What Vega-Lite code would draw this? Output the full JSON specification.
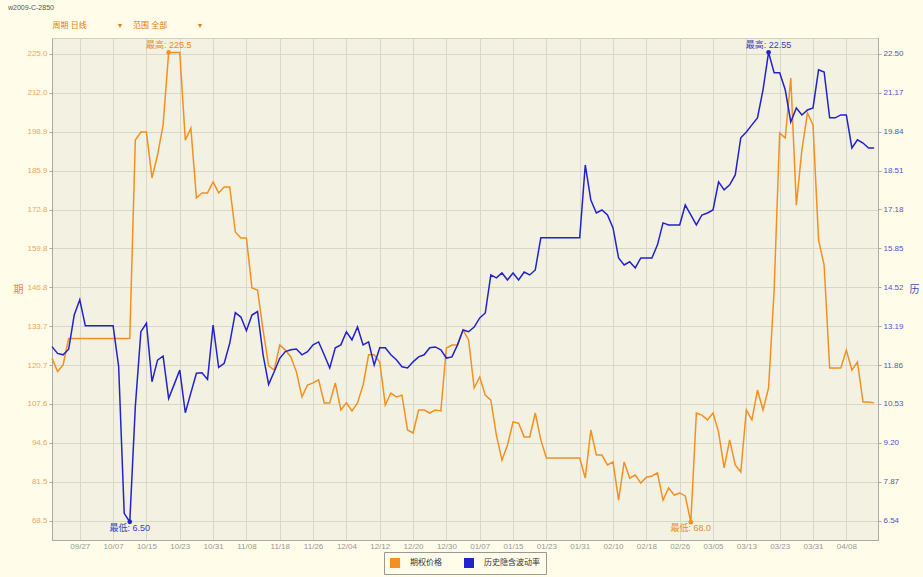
{
"$schema": "https://vega.github.io/schema/vega-lite/v6.json",
"width": 826, "height": 502,
"autosize": "none",
"padding": {"left": 52, "top": 38, "right": 45, "bottom": 37},
"background": "#fffdea",
"config": {
  "view": {"fill": "#f3f1e2", "stroke": "#cfcfc4"},
  "font": "Liberation Sans, Noto Sans CJK SC",
  "axis": {"labelOverlap": false},
  "axisX": {"labelOverlap": false, "labelSeparation": 0},
  "legend": {"orient": "bottom", "direction": "horizontal", "strokeColor": "#999999", "padding": 6, "labelFontSize": 8, "labelColor": "#333333", "symbolType": "square", "symbolSize": 100, "columnPadding": 22, "offset": 2, "labelOffset": 10, "layout": {"bottom": {"anchor": "middle"}}}
},
"title": {"text": "w2009-C-2850", "anchor": "start", "frame": "group", "dx": -44, "fontSize": 7, "fontWeight": "normal", "color": "#555555", "offset": 10},
"datasets": {
"main": [
{"i":0,"p":123.0,"v":12.49},{"i":1,"p":118.5,"v":12.26},{"i":2,"p":120.7,"v":12.21},{"i":3,"p":129.6,"v":12.40},{"i":4,"p":129.6,"v":13.57},{"i":5,"p":129.6,"v":14.09},{"i":6,"p":129.6,"v":13.20},{"i":7,"p":129.6,"v":13.20},{"i":8,"p":129.6,"v":13.20},{"i":9,"p":129.6,"v":13.20},
{"i":10,"p":129.6,"v":13.20},{"i":11,"p":129.6,"v":13.20},{"i":12,"p":129.6,"v":11.81},{"i":13,"p":129.6,"v":6.79},{"i":14,"p":129.6,"v":6.50},{"i":15,"p":196.1,"v":10.44},{"i":16,"p":198.8,"v":13.00},{"i":17,"p":198.8,"v":13.29},{"i":18,"p":183.4,"v":11.29},{"i":19,"p":191.1,"v":12.03},
{"i":20,"p":201.2,"v":12.17},{"i":21,"p":225.5,"v":10.72},{"i":22,"p":225.5,"v":11.20},{"i":23,"p":225.5,"v":11.69},{"i":24,"p":196.1,"v":10.23},{"i":25,"p":200.1,"v":10.91},{"i":26,"p":176.7,"v":11.58},{"i":27,"p":178.4,"v":11.60},{"i":28,"p":178.4,"v":11.37},{"i":29,"p":182.1,"v":13.23},
{"i":30,"p":178.4,"v":11.78},{"i":31,"p":180.4,"v":11.92},{"i":32,"p":180.4,"v":12.61},{"i":33,"p":165.3,"v":13.65},{"i":34,"p":163.3,"v":13.50},{"i":35,"p":163.3,"v":13.04},{"i":36,"p":146.5,"v":13.57},{"i":37,"p":145.8,"v":13.69},{"i":38,"p":132.4,"v":12.21},{"i":39,"p":120.4,"v":11.20},
{"i":40,"p":119.0,"v":11.63},{"i":41,"p":127.4,"v":12.09},{"i":42,"p":125.7,"v":12.32},{"i":43,"p":123.4,"v":12.38},{"i":44,"p":118.4,"v":12.41},{"i":45,"p":110.0,"v":12.21},{"i":46,"p":114.0,"v":12.32},{"i":47,"p":114.7,"v":12.55},{"i":48,"p":115.7,"v":12.65},{"i":49,"p":108.0,"v":12.21},
{"i":50,"p":108.0,"v":11.76},{"i":51,"p":114.7,"v":12.45},{"i":52,"p":105.6,"v":12.55},{"i":53,"p":108.0,"v":13.00},{"i":54,"p":105.3,"v":12.72},{"i":55,"p":108.0,"v":13.16},{"i":56,"p":114.0,"v":12.55},{"i":57,"p":124.1,"v":12.65},{"i":58,"p":124.1,"v":11.86},{"i":59,"p":121.7,"v":12.45},
{"i":60,"p":107.3,"v":12.45},{"i":61,"p":111.3,"v":12.21},{"i":62,"p":110.0,"v":12.04},{"i":63,"p":110.6,"v":11.80},{"i":64,"p":98.9,"v":11.76},{"i":65,"p":97.9,"v":11.97},{"i":66,"p":105.6,"v":12.14},{"i":67,"p":105.6,"v":12.21},{"i":68,"p":104.6,"v":12.45},{"i":69,"p":105.6,"v":12.48},
{"i":70,"p":105.3,"v":12.38},{"i":71,"p":126.4,"v":12.10},{"i":72,"p":127.4,"v":12.14},{"i":73,"p":127.4,"v":12.55},{"i":74,"p":132.4,"v":13.06},{"i":75,"p":129.1,"v":13.00},{"i":76,"p":113.0,"v":13.16},{"i":77,"p":116.7,"v":13.47},{"i":78,"p":110.6,"v":13.64},{"i":79,"p":108.9,"v":14.94},
{"i":80,"p":97.2,"v":14.84},{"i":81,"p":88.8,"v":15.01},{"i":82,"p":93.9,"v":14.77},{"i":83,"p":101.6,"v":15.01},{"i":84,"p":101.2,"v":14.77},{"i":85,"p":96.6,"v":15.04},{"i":86,"p":96.6,"v":14.94},{"i":87,"p":104.6,"v":15.11},{"i":88,"p":95.6,"v":16.21},{"i":89,"p":89.5,"v":16.21},
{"i":90,"p":89.5,"v":16.21},{"i":91,"p":89.5,"v":16.21},{"i":92,"p":89.5,"v":16.21},{"i":93,"p":89.5,"v":16.21},{"i":94,"p":89.5,"v":16.21},{"i":95,"p":89.5,"v":16.21},{"i":96,"p":82.8,"v":18.70},{"i":97,"p":98.9,"v":17.50},{"i":98,"p":90.5,"v":17.06},{"i":99,"p":90.5,"v":17.16},
{"i":100,"p":87.2,"v":16.99},{"i":101,"p":88.2,"v":16.55},{"i":102,"p":75.4,"v":15.52},{"i":103,"p":88.2,"v":15.28},{"i":104,"p":82.8,"v":15.39},{"i":105,"p":83.8,"v":15.18},{"i":106,"p":81.1,"v":15.52},{"i":107,"p":83.1,"v":15.52},{"i":108,"p":83.5,"v":15.52},{"i":109,"p":84.5,"v":15.97},
{"i":110,"p":75.4,"v":16.72},{"i":111,"p":79.5,"v":16.65},{"i":112,"p":77.1,"v":16.65},{"i":113,"p":77.8,"v":16.65},{"i":114,"p":76.8,"v":17.33},{"i":115,"p":68.0,"v":16.99},{"i":116,"p":104.6,"v":16.65},{"i":117,"p":103.9,"v":16.99},{"i":118,"p":102.3,"v":17.06},{"i":119,"p":104.6,"v":17.16},
{"i":120,"p":98.2,"v":18.12},{"i":121,"p":86.2,"v":17.85},{"i":122,"p":95.6,"v":18.02},{"i":123,"p":87.2,"v":18.36},{"i":124,"p":84.8,"v":19.63},{"i":125,"p":105.6,"v":19.83},{"i":126,"p":102.3,"v":20.07},{"i":127,"p":112.3,"v":20.31},{"i":128,"p":105.6,"v":21.27},{"i":129,"p":113.0,"v":22.55},
{"i":130,"p":145.8,"v":21.85},{"i":131,"p":198.5,"v":21.85},{"i":132,"p":196.8,"v":21.27},{"i":133,"p":216.9,"v":20.17},{"i":134,"p":174.3,"v":20.65},{"i":135,"p":192.8,"v":20.41},{"i":136,"p":205.2,"v":20.58},{"i":137,"p":201.2,"v":20.65},{"i":138,"p":162.6,"v":21.95},{"i":139,"p":154.2,"v":21.88},
{"i":140,"p":119.7,"v":20.31},{"i":141,"p":119.7,"v":20.31},{"i":142,"p":119.7,"v":20.41},{"i":143,"p":125.7,"v":20.41},{"i":144,"p":119.0,"v":19.28},{"i":145,"p":121.7,"v":19.56},{"i":146,"p":108.3,"v":19.45},{"i":147,"p":108.3,"v":19.28},{"i":148,"p":108.0,"v":19.28}
],
"annP": [{"i":21,"p":225.5,"note":"最高: 225.5","pos":"hi"},{"i":115,"p":68.0,"note":"最低: 68.0","pos":"lo"}],
"annV": [{"i":129,"v":22.55,"note":"最高: 22.55","pos":"hi"},{"i":14,"v":6.50,"note":"最低: 6.50","pos":"lo"}]
},
"layer": [
  {"layer": [
    {"data": {"name": "main"}, "mark": {"type": "line", "strokeWidth": 1.5},
     "encoding": {
       "x": {"field": "i", "type": "quantitative", "scale": {"domain": [0, 148.7], "nice": false, "zero": false},
             "axis": {"orient": "bottom", "title": null, "values": [5,11,17,23,29,35,41,47,53,59,65,71,77,83,89,95,101,107,113,119,125,131,137,143],
                      "labelExpr": "['09/27','10/07','10/15','10/23','10/31','11/08','11/18','11/26','12/04','12/12','12/20','12/30','01/07','01/15','01/23','01/31','02/10','02/18','02/26','03/05','03/13','03/23','03/31','04/08'][(datum.value - 5) / 6]",
                      "labelOverlap": false, "labelFlush": false, "tickCount": 24,
                      "grid": true, "gridColor": "#d8d7cb", "ticks": false, "domainColor": "#aaaaaa", "labelColor": "#999999", "labelFontSize": 8, "labelPadding": 2}},
       "y": {"field": "p", "type": "quantitative", "scale": {"domain": [62.03, 230.33], "nice": false, "zero": false},
             "axis": {"orient": "left", "title": "期", "values": [68.5,81.54,94.58,107.63,120.67,133.71,146.75,159.79,172.83,185.88,198.92,211.96,225.0], "format": ".1f",
                      "labelOverlap": false,
                      "grid": true, "gridColor": "#d8d7cb", "tickColor": "#aaaaaa", "tickSize": 3, "domainColor": "#aaaaaa", "labelColor": "#eea65a", "labelFontSize": 8, "labelPadding": 2,
                      "titleAngle": 0, "titleColor": "#f08a20", "titleFontSize": 10, "titleFontWeight": "normal", "titleBaseline": "middle", "titleAlign": "right", "titlePadding": 4}},
       "color": {"datum": "期权价格", "type": "nominal", "scale": {"domain": ["期权价格", "历史隐含波动率"], "range": ["#f39020", "#2222d0"]},
                 "legend": {"title": null, "encode": {"symbols": {"update": {"fill": {"scale": "color", "field": "value"}, "strokeWidth": {"value": 0}}}}}}
     }},
    {"data": {"name": "annP"}, "mark": {"type": "point", "filled": true, "size": 22, "opacity": 1},
     "encoding": {"x": {"field": "i", "type": "quantitative"}, "y": {"field": "p", "type": "quantitative"}, "color": {"datum": "期权价格", "type": "nominal"}}},
    {"data": {"name": "annP"}, "transform": [{"filter": "datum.pos == 'hi'"}], "mark": {"type": "text", "baseline": "bottom", "dy": -2, "fontSize": 9, "color": "#f08a20"},
     "encoding": {"x": {"field": "i", "type": "quantitative"}, "y": {"field": "p", "type": "quantitative"}, "text": {"field": "note"}}},
    {"data": {"name": "annP"}, "transform": [{"filter": "datum.pos == 'lo'"}], "mark": {"type": "text", "baseline": "top", "dy": 2, "fontSize": 9, "color": "#f08a20"},
     "encoding": {"x": {"field": "i", "type": "quantitative"}, "y": {"field": "p", "type": "quantitative"}, "text": {"field": "note"}}}
  ]},
  {"layer": [
    {"data": {"name": "main"}, "mark": {"type": "line", "strokeWidth": 1.5},
     "encoding": {
       "x": {"field": "i", "type": "quantitative", "scale": {"domain": [0, 148.7], "nice": false, "zero": false},
             "axis": {"orient": "top", "title": "周期 日线\u00a0\u00a0\u00a0\u00a0\u00a0\u00a0\u00a0\u00a0\u00a0\u00a0\u00a0\u00a0\u00a0\u00a0▾\u00a0\u00a0\u00a0\u00a0\u00a0范围 全部\u00a0\u00a0\u00a0\u00a0\u00a0\u00a0\u00a0\u00a0\u00a0\u00a0\u00a0\u00a0\u00a0\u00a0▾", "labels": false, "ticks": false, "domain": false, "grid": false,
                      "titleAnchor": "start", "titleAlign": "left", "titleColor": "#e87a10", "titleFontSize": 8, "titleFontWeight": "normal", "titlePadding": 9}},
       "y": {"field": "v", "type": "quantitative", "scale": {"domain": [5.88, 23.04], "nice": false, "zero": false},
             "axis": {"orient": "right", "title": "历", "values": [6.54,7.87,9.20,10.53,11.86,13.19,14.52,15.85,17.18,18.51,19.84,21.17,22.50], "format": ".2f",
                      "labelOverlap": false,
                      "grid": false, "tickColor": "#aaaaaa", "tickSize": 3, "domainColor": "#aaaaaa", "labelColor": "#5252c8", "labelFontSize": 8, "labelPadding": 2,
                      "titleAngle": 0, "titleColor": "#4444c4", "titleFontSize": 10, "titleFontWeight": "normal", "titleBaseline": "middle", "titleAlign": "left", "titlePadding": 6}},
       "color": {"datum": "历史隐含波动率", "type": "nominal"}
     }},
    {"data": {"name": "annV"}, "mark": {"type": "point", "filled": true, "size": 22, "opacity": 1},
     "encoding": {"x": {"field": "i", "type": "quantitative"}, "y": {"field": "v", "type": "quantitative"}, "color": {"datum": "历史隐含波动率", "type": "nominal"}}},
    {"data": {"name": "annV"}, "transform": [{"filter": "datum.pos == 'hi'"}], "mark": {"type": "text", "baseline": "bottom", "dy": -2, "fontSize": 9, "color": "#3b3bc4"},
     "encoding": {"x": {"field": "i", "type": "quantitative"}, "y": {"field": "v", "type": "quantitative"}, "text": {"field": "note"}}},
    {"data": {"name": "annV"}, "transform": [{"filter": "datum.pos == 'lo'"}], "mark": {"type": "text", "baseline": "top", "dy": 2, "fontSize": 9, "color": "#3b3bc4"},
     "encoding": {"x": {"field": "i", "type": "quantitative"}, "y": {"field": "v", "type": "quantitative"}, "text": {"field": "note"}}}
  ]}
],
"resolve": {"scale": {"y": "independent"}, "axis": {"x": "independent"}}
}
